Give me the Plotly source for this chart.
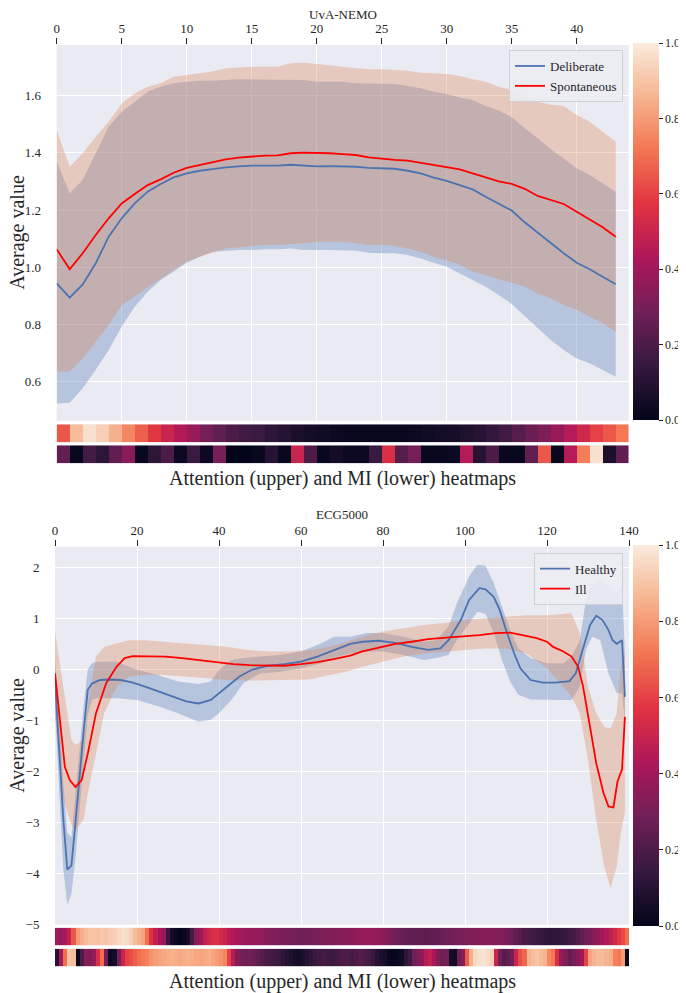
import plotly.graph_objects as go

# ---------------- UvA-NEMO (top) ----------------
nemo_x = list(range(44))
deliberate_mean = [0.944, 0.894, 0.94, 1.014, 1.107, 1.171, 1.223, 1.264, 1.291, 1.314, 1.328, 1.337,
                   1.343, 1.349, 1.352, 1.355, 1.355, 1.355, 1.358, 1.355, 1.352, 1.353, 1.353, 1.351,
                   1.347, 1.345, 1.344, 1.337, 1.328, 1.313, 1.302, 1.287, 1.272, 1.246, 1.223, 1.198,
                   1.157, 1.121, 1.084, 1.049, 1.016, 0.993, 0.967, 0.941]
deliberate_upper = [1.369, 1.258, 1.305, 1.398, 1.491, 1.543, 1.578, 1.613, 1.63, 1.642, 1.648, 1.651,
                    1.651, 1.654, 1.656, 1.656, 1.656, 1.656, 1.654, 1.654, 1.648, 1.648, 1.648, 1.642,
                    1.642, 1.642, 1.640, 1.633, 1.625, 1.613, 1.605, 1.593, 1.584, 1.563, 1.547, 1.524,
                    1.485, 1.45, 1.412, 1.38, 1.346, 1.322, 1.293, 1.264]
deliberate_lower = [0.525, 0.527, 0.578, 0.642, 0.711, 0.793, 0.862, 0.915, 0.956, 0.985, 1.016, 1.037,
                    1.054, 1.058, 1.06, 1.06, 1.063, 1.063, 1.066, 1.06, 1.06, 1.06, 1.06, 1.058,
                    1.051, 1.049, 1.049, 1.043, 1.031, 1.016, 1.002, 0.979, 0.956, 0.932, 0.903, 0.872,
                    0.830, 0.787, 0.746, 0.711, 0.682, 0.665, 0.642, 0.618]
spont_mean = [1.063, 0.993, 1.049, 1.113, 1.171, 1.223, 1.256, 1.287, 1.307, 1.330, 1.347, 1.357,
              1.365, 1.377, 1.383, 1.387, 1.39, 1.391, 1.398, 1.40, 1.40, 1.398, 1.395, 1.392,
              1.384, 1.379, 1.375, 1.372, 1.365, 1.358, 1.351, 1.342, 1.328, 1.314, 1.30, 1.291,
              1.274, 1.249, 1.235, 1.221, 1.194, 1.167, 1.14, 1.107]
spont_upper = [1.479, 1.351, 1.398, 1.456, 1.508, 1.572, 1.607, 1.630, 1.642, 1.665, 1.671, 1.677,
               1.683, 1.695, 1.698, 1.70, 1.70, 1.70, 1.712, 1.714, 1.71, 1.706, 1.70, 1.695,
               1.691, 1.691, 1.689, 1.686, 1.679, 1.677, 1.675, 1.668, 1.656, 1.648, 1.63, 1.619,
               1.601, 1.578, 1.567, 1.563, 1.532, 1.508, 1.473, 1.438]
spont_lower = [0.636, 0.636, 0.682, 0.740, 0.799, 0.868, 0.897, 0.930, 0.962, 0.991, 1.02, 1.037,
               1.051, 1.066, 1.072, 1.074, 1.078, 1.078, 1.081, 1.084, 1.089, 1.089, 1.089, 1.084,
               1.078, 1.078, 1.074, 1.066, 1.054, 1.037, 1.025, 1.008, 0.985, 0.973, 0.958, 0.946,
               0.932, 0.909, 0.892, 0.868, 0.851, 0.828, 0.805, 0.775]
nemo_attention = [0.65, 0.88, 0.97, 0.93, 0.85, 0.75, 0.67, 0.58, 0.50, 0.44, 0.38, 0.30, 0.25, 0.20,
                  0.17, 0.15, 0.12, 0.10, 0.07, 0.05, 0.04, 0.03, 0.02, 0.02, 0.02, 0.02, 0.02, 0.03,
                  0.04, 0.05, 0.06, 0.08, 0.10, 0.13, 0.17, 0.22, 0.27, 0.32, 0.38, 0.45, 0.52, 0.60,
                  0.65, 0.72]
nemo_mi = [0.25, 0.02, 0.18, 0.12, 0.25, 0.35, 0.02, 0.12, 0.20, 0.03, 0.15, 0.03, 0.30, 0.0,
           0.0, 0.02, 0.10, 0.02, 0.50, 0.20, 0.02, 0.05, 0.03, 0.03, 0.15, 0.55, 0.22, 0.30,
           0.02, 0.02, 0.03, 0.45, 0.10, 0.20, 0.02, 0.02, 0.25, 0.65, 0.02, 0.45, 0.73, 0.97,
           0.07, 0.25]
nemo_xticks = [0, 5, 10, 15, 20, 25, 30, 35, 40]
nemo_yticks = [0.6, 0.8, 1.0, 1.2, 1.4, 1.6]

# ---------------- ECG5000 (bottom) ----------------
healthy_x = [0, 1, 2, 3, 4, 5, 6, 7, 8, 9, 11, 13, 16, 19, 22, 26, 29, 32, 35, 38, 40, 43, 45, 48, 52,
             56, 60, 64, 68, 72, 75, 79, 83, 87, 91, 94, 96, 99, 101, 103.5, 105, 107, 108.5, 110,
             112, 113.5, 116, 119, 122, 125.5, 127, 129, 130.5, 132, 133.5, 135, 136, 137, 138.3, 139]
healthy_mean = [-0.21, -1.5, -2.9, -3.93, -3.85, -3.0, -2.05, -1.2, -0.4, -0.28, -0.21, -0.20, -0.21,
                -0.26, -0.34, -0.46, -0.55, -0.63, -0.67, -0.6, -0.47, -0.28, -0.14, -0.01, 0.07,
                0.10, 0.15, 0.25, 0.38, 0.50, 0.54, 0.56, 0.52, 0.44, 0.38, 0.41, 0.57, 0.97, 1.36,
                1.59, 1.57, 1.42, 1.16, 0.77, 0.31, 0.02, -0.21, -0.26, -0.26, -0.23, -0.08, 0.44,
                0.87, 1.05, 0.97, 0.77, 0.57, 0.50, 0.57, -0.54]
healthy_band_x = [0, 1, 2, 3, 4, 5, 6, 7, 8, 9, 10, 15, 20, 25, 30, 35, 38, 40, 43, 46, 50, 55, 60,
                  65, 68, 72, 76, 80, 85, 90, 93, 96, 98, 101, 103, 105, 107, 109, 111, 113, 116,
                  120, 124, 126, 128, 129.5, 131, 133, 135, 137, 138.3, 139]
healthy_upper = [0.2, -0.8, -2.2, -3.2, -3.3, -2.4, -1.5, -0.7, 0.0, 0.12, 0.15, 0.15, -0.01, -0.11,
                 -0.24, -0.29, -0.24, -0.01, 0.18, 0.22, 0.25, 0.28, 0.35, 0.51, 0.64, 0.64, 0.71,
                 0.71, 0.64, 0.54, 0.57, 0.84, 1.29, 1.82, 2.05, 2.03, 1.69, 1.23, 0.77, 0.41, 0.22,
                 0.12, 0.12, 0.25, 0.57, 1.36, 1.65, 1.75, 1.62, 1.52, 1.65, 0.3]
healthy_lower = [-0.8, -2.3, -3.9, -4.62, -4.4, -3.7, -2.7, -1.8, -0.9, -0.6, -0.57, -0.57, -0.6,
                 -0.72, -0.86, -1.03, -0.99, -0.86, -0.6, -0.27, -0.08, -0.05, 0.02, 0.12, 0.22,
                 0.31, 0.35, 0.35, 0.28, 0.18, 0.22, 0.28, 0.57, 0.90, 1.13, 1.09, 0.71, 0.18,
                 -0.24, -0.50, -0.59, -0.60, -0.60, -0.60, -0.34, 0.38, 0.64, 0.57, -0.08, -0.47,
                 -0.47, -1.0]
ill_x = [0, 1.2, 2.4, 3.6, 5, 6.5, 8, 10, 12.5, 15, 17, 19, 23, 27, 31, 35, 39.5, 43.5, 47.5, 52,
         56, 60, 64, 68, 72, 75, 79, 83, 87, 91, 95.5, 99.5, 103.5, 107.5, 111, 114, 117.5, 120,
         121.5, 124, 126, 127.6, 128.8, 130.5, 132, 133.8, 135, 136.2, 137.2, 138.3, 139]
ill_mean = [-0.08, -0.93, -1.91, -2.17, -2.31, -2.17, -1.65, -0.86, -0.27, 0.05, 0.22, 0.26, 0.26,
            0.25, 0.22, 0.18, 0.14, 0.10, 0.08, 0.07, 0.07, 0.10, 0.14, 0.20, 0.27, 0.35, 0.43,
            0.50, 0.54, 0.59, 0.62, 0.64, 0.67, 0.71, 0.72, 0.67, 0.61, 0.54, 0.44, 0.35, 0.25,
            0.05, -0.34, -1.13, -1.84, -2.43, -2.69, -2.71, -2.20, -1.96, -0.93]
ill_band_x = [0, 2, 4, 5, 7, 8, 10, 12, 15, 18, 22, 27, 32, 37, 42, 47, 52, 57, 62, 67, 71, 75, 80,
              85, 90, 95, 100, 105, 110, 115, 120, 124, 126, 128, 130, 132, 134, 135.5, 137, 138, 139]
ill_upper = [0.74, -0.34, -1.39, -1.48, -1.39, -0.73, 0.25, 0.44, 0.51, 0.57, 0.57, 0.54, 0.51, 0.48,
             0.44, 0.38, 0.35, 0.35, 0.38, 0.44, 0.54, 0.64, 0.74, 0.80, 0.87, 0.91, 0.97, 1.0, 1.03,
             1.06, 1.06, 1.08, 1.10, 0.71, -0.34, -0.86, -1.13, -1.16, -0.86, 0.05, 0.3]
ill_lower = [-0.9, -2.56, -3.05, -3.15, -2.95, -2.43, -1.65, -0.86, -0.34, -0.14, -0.11, -0.11, -0.14,
             -0.18, -0.21, -0.22, -0.22, -0.21, -0.2, -0.11, -0.05, 0.05, 0.15, 0.25, 0.31, 0.35,
             0.38, 0.41, 0.41, 0.31, 0.02, -0.34, -0.54, -0.86, -1.78, -2.95, -3.87, -4.29, -3.87,
             -3.21, -2.8]
ecg_attention = [0.40, 0.38, 0.42, 0.48, 0.65, 0.80, 0.85, 0.88, 0.90, 0.90, 0.89, 0.91, 0.90, 0.92,
                 0.93, 0.95, 0.97, 0.96, 0.93, 0.88, 0.85, 0.82, 0.70, 0.56, 0.48, 0.42, 0.38, 0.15,
                 0.05, 0.02, 0.01, 0.02, 0.06, 0.18, 0.33, 0.40, 0.48, 0.52, 0.55, 0.55, 0.53, 0.50,
                 0.46, 0.44, 0.42, 0.40, 0.38, 0.38, 0.37, 0.37, 0.36, 0.35,
                 0.33, 0.32, 0.31, 0.31, 0.30, 0.30, 0.30, 0.29, 0.29, 0.29, 0.30, 0.30, 0.31, 0.31,
                 0.32, 0.32, 0.33, 0.33, 0.33,
                 0.34, 0.35, 0.36, 0.37, 0.38, 0.38, 0.38, 0.37, 0.36, 0.34, 0.32, 0.30,
                 0.28, 0.27, 0.26, 0.25, 0.25, 0.24, 0.24, 0.24, 0.25, 0.25, 0.26, 0.27, 0.28, 0.29,
                 0.30, 0.30, 0.31, 0.31, 0.32, 0.32, 0.33, 0.34, 0.34, 0.34, 0.33,
                 0.33, 0.32, 0.30, 0.28, 0.25, 0.22, 0.20, 0.18, 0.17, 0.15, 0.14,
                 0.13, 0.12, 0.12, 0.12, 0.13, 0.14, 0.16, 0.18, 0.21,
                 0.25, 0.28, 0.31, 0.34, 0.37, 0.40, 0.44, 0.48, 0.52, 0.58, 0.62, 0.70]
ecg_mi = [0.10, 0.40, 0.70, 0.90, 0.88, 0.02, 0.20, 0.35, 0.32, 0.38, 0.55, 0.70, 0.30, 0.03, 0.05,
          0.30, 0.50, 0.60, 0.63, 0.66, 0.70, 0.72, 0.74,
          0.78, 0.80, 0.82, 0.83, 0.84, 0.85, 0.84, 0.83, 0.84, 0.85, 0.84, 0.83, 0.82, 0.83, 0.84,
          0.82, 0.80, 0.78, 0.75, 0.60, 0.45,
          0.33, 0.30, 0.28, 0.30, 0.27, 0.25, 0.22,
          0.20, 0.18, 0.17, 0.15, 0.12, 0.10, 0.08, 0.06, 0.05, 0.07, 0.10, 0.12, 0.15, 0.17, 0.18,
          0.16, 0.15, 0.17, 0.19, 0.20,
          0.20, 0.18, 0.20, 0.22, 0.20, 0.18, 0.15, 0.10, 0.08, 0.06, 0.02, 0.01, 0.02, 0.04,
          0.12, 0.16, 0.28, 0.32, 0.36, 0.45, 0.48, 0.42, 0.32, 0.28, 0.30, 0.06, 0.04, 0.28, 0.34,
          0.66, 0.85, 0.95, 0.97, 0.98, 0.96, 0.93, 0.50, 0.28, 0.22, 0.25, 0.30, 0.50, 0.63, 0.68,
          0.86, 0.88, 0.90, 0.88, 0.86, 0.76, 0.72, 0.55, 0.38, 0.32, 0.25, 0.30, 0.35, 0.40, 0.60,
          0.82, 0.86, 0.88, 0.88, 0.86, 0.84, 0.74, 0.72, 0.80, 0.02]
ecg_xticks = [0, 20, 40, 60, 80, 100, 120, 140]
ecg_yticks = [-5, -4, -3, -2, -1, 0, 1, 2]
cbar_ticks = [0.0, 0.2, 0.4, 0.6, 0.8, 1.0]

# ---------------- styling ----------------
# The page keeps the browser's default 8px body margin, so the figure fills the rest
# of the 686x993 window and every position below is given in window pixels.
PAGE_OFF = 8
FW, FH = 686 - PAGE_OFF, 993 - PAGE_OFF
FONT = "Liberation Serif"
TXT = "#262626"
BG = "#eaeaf2"
BLUE = "#4c72b0"
RED = "#ff0000"
BLUE_FILL = "rgba(76,114,176,0.32)"
ORANGE_FILL = "rgba(221,132,82,0.32)"
ROCKET = [[0.0, "#03051a"], [1 / 7, "#35193e"], [2 / 7, "#701f57"], [3 / 7, "#ad1759"],
          [4 / 7, "#e13342"], [5 / 7, "#f37651"], [6 / 7, "#f6b48f"], [1.0, "#faebdd"]]


def fy(py):
    return 1 - (py - PAGE_OFF) / FH


def fx(px):
    return (px - PAGE_OFF) / FW


fig = go.Figure()


def band(x, up, lo, color, xa, ya):
    fig.add_trace(go.Scatter(x=list(x) + list(x)[::-1], y=list(up) + list(lo)[::-1],
                             fill="toself", fillcolor=color, line=dict(width=0),
                             mode="lines", hoverinfo="skip", showlegend=False,
                             xaxis=xa, yaxis=ya))


def cbar(yc, length):
    return dict(x=fx(633), xanchor="left", y=fy(yc), yanchor="middle",
                len=length / FH, lenmode="fraction", thickness=26,
                thicknessmode="pixels", outlinewidth=0, xpad=0, ypad=0,
                ticks="outside", ticklen=4, tickcolor=TXT, tickvals=cbar_ticks,
                tickformat=".1f", tickfont=dict(family=FONT, size=12, color=TXT))


# top chart
band(nemo_x, deliberate_upper, deliberate_lower, BLUE_FILL, "x", "y")
band(nemo_x, spont_upper, spont_lower, ORANGE_FILL, "x", "y")
fig.add_trace(go.Scatter(x=nemo_x, y=deliberate_mean, mode="lines", name="Deliberate",
                         line=dict(color=BLUE, width=1.8), xaxis="x", yaxis="y", legend="legend"))
fig.add_trace(go.Scatter(x=nemo_x, y=spont_mean, mode="lines", name="Spontaneous",
                         line=dict(color=RED, width=1.8), xaxis="x", yaxis="y", legend="legend"))

cells44 = [i + 0.5 for i in range(44)]
fig.add_trace(go.Heatmap(z=[nemo_attention], x=cells44, y=[0], zmin=0, zmax=1, colorscale=ROCKET,
                         xaxis="x2", yaxis="y2", showscale=True, colorbar=cbar(231.5, 377)))
fig.add_trace(go.Heatmap(z=[nemo_mi], x=cells44, y=[0], zmin=0, zmax=1, colorscale=ROCKET,
                         xaxis="x3", yaxis="y3", showscale=False))

# bottom chart
band(healthy_band_x, healthy_upper, healthy_lower, BLUE_FILL, "x4", "y4")
band(ill_band_x, ill_upper, ill_lower, ORANGE_FILL, "x4", "y4")
fig.add_trace(go.Scatter(x=healthy_x, y=healthy_mean, mode="lines", name="Healthy",
                         line=dict(color=BLUE, width=1.8), xaxis="x4", yaxis="y4", legend="legend2"))
fig.add_trace(go.Scatter(x=ill_x, y=ill_mean, mode="lines", name="Ill",
                         line=dict(color=RED, width=1.8), xaxis="x4", yaxis="y4", legend="legend2"))

cells140 = [i + 0.5 for i in range(140)]
fig.add_trace(go.Heatmap(z=[ecg_attention], x=cells140, y=[0], zmin=0, zmax=1, colorscale=ROCKET,
                         xaxis="x5", yaxis="y5", showscale=True, colorbar=cbar(735.5, 381)))
fig.add_trace(go.Heatmap(z=[ecg_mi], x=cells140, y=[0], zmin=0, zmax=1, colorscale=ROCKET,
                         xaxis="x6", yaxis="y6", showscale=False))

tickfont = dict(family=FONT, size=13, color=TXT)
top_xdom = [fx(56.7), fx(628.7)]
bot_xdom = [fx(55), fx(629)]


def line_xaxis(dom, rng, tv, anchor):
    return dict(domain=dom, range=rng, tickvals=tv, side="top", ticks="outside", ticklen=6,
                tickwidth=1.3, tickcolor=TXT, ticklabelstandoff=0, showgrid=True, gridcolor="white",
                gridwidth=1, zeroline=False, showline=False, tickfont=tickfont, anchor=anchor,
                automargin=False)


def line_yaxis(dom, rng, tv, anchor, fmt):
    return dict(domain=dom, range=rng, tickvals=tv, ticks="outside", ticklen=12,
                tickcolor="rgba(0,0,0,0)", showgrid=True, gridcolor="white", gridwidth=1,
                zeroline=False, showline=False, tickfont=tickfont, anchor=anchor, tickformat=fmt,
                automargin=False)


def hidden(dom, rng, anchor):
    return dict(domain=dom, range=rng, visible=False, anchor=anchor, fixedrange=True,
                automargin=False)


legend_style = dict(xanchor="right", yanchor="top", bgcolor="rgba(236,236,243,0.9)",
                    bordercolor="#cfcfd6", borderwidth=1,
                    font=dict(family=FONT, size=13, color=TXT), tracegroupgap=0)

fig.update_layout(
    width=FW, height=FH, margin=dict(l=0, r=0, t=0, b=0, pad=0, autoexpand=False),
    paper_bgcolor="white", plot_bgcolor=BG,
    font=dict(family=FONT, color=TXT),
    xaxis=line_xaxis(top_xdom, [0, 44], nemo_xticks, "y"),
    yaxis=line_yaxis([fy(420.7), fy(45)], [0.4646, 1.7759], nemo_yticks, "x", ".1f"),
    xaxis2=hidden(top_xdom, [0, 44], "y2"),
    yaxis2=hidden([fy(442.3), fy(424.3)], [-0.5, 0.5], "x2"),
    xaxis3=hidden(top_xdom, [0, 44], "y3"),
    yaxis3=hidden([fy(463.3), fy(445.3)], [-0.5, 0.5], "x3"),
    xaxis4=line_xaxis(bot_xdom, [0, 140], ecg_xticks, "y4"),
    yaxis4=line_yaxis([fy(924.7), fy(546.7)], [-5.008, 2.404], ecg_yticks, "x4", "d"),
    xaxis5=hidden(bot_xdom, [0, 140], "y5"),
    yaxis5=hidden([fy(945.3), fy(927.7)], [-0.5, 0.5], "x5"),
    xaxis6=hidden(bot_xdom, [0, 140], "y6"),
    yaxis6=hidden([fy(966.3), fy(948.7)], [-0.5, 0.5], "x6"),
    legend=dict(x=fx(623), y=fy(50), **legend_style),
    legend2=dict(x=fx(623), y=fy(552.7), **legend_style),
    showlegend=True,
)

annos = [
    dict(text="UvA-NEMO", x=fx(342.7), y=fy(14.5), size=13),
    dict(text="ECG5000", x=fx(342), y=fy(514), size=13),
    dict(text="Attention (upper) and MI (lower) heatmaps", x=fx(342.7), y=fy(478.3), size=20),
    dict(text="Attention (upper) and MI (lower) heatmaps", x=fx(342), y=fy(981), size=20),
]
for a in annos:
    fig.add_annotation(text=a["text"], x=a["x"], y=a["y"], xref="paper", yref="paper",
                       xanchor="center", yanchor="middle", showarrow=False,
                       font=dict(family=FONT, size=a["size"], color=TXT))
for yc in [232.8, 735.7]:
    fig.add_annotation(text="Average value", x=fx(18), y=fy(yc), xref="paper", yref="paper",
                       xanchor="center", yanchor="middle", showarrow=False, textangle=-90,
                       font=dict(family=FONT, size=20, color=TXT))

fig.write_html("out.html")
